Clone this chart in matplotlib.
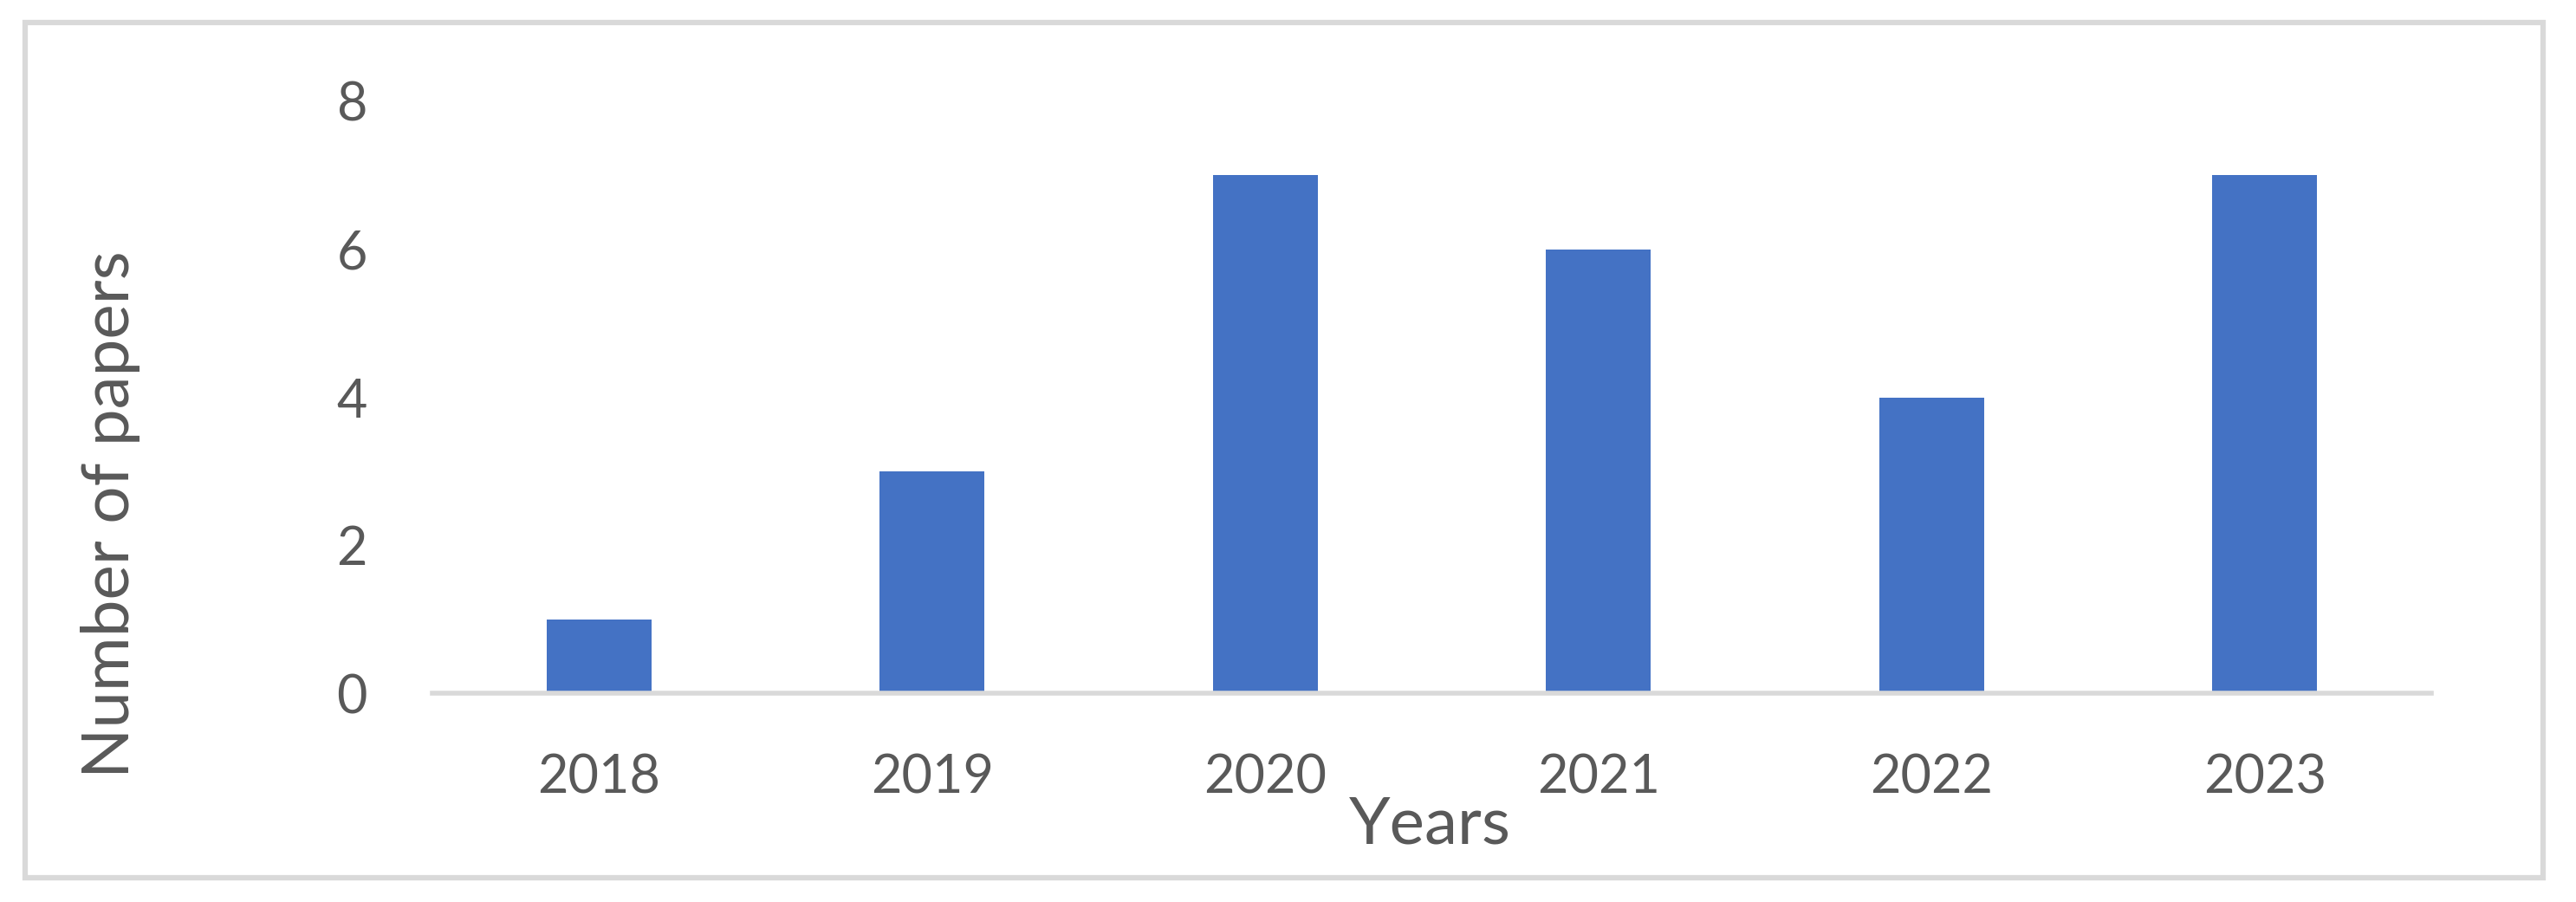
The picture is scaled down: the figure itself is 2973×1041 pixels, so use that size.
import matplotlib
matplotlib.use('Agg')
import matplotlib.pyplot as plt
from matplotlib.patches import Rectangle

years = ['2018', '2019', '2020', '2021', '2022', '2023']
papers = [1, 3, 7, 6, 4, 7]
yticks = [0, 2, 4, 6, 8]

plt.rcParams['font.family'] = ['Lato', 'DejaVu Sans']

grey = '#595959'
W, H = 2973, 1041
fig = plt.figure(figsize=(W / 100, H / 100), dpi=100)

# outer chart border (like an office chart frame)
fig.patches.append(Rectangle((29 / W, 28 / H), (2935 - 29) / W, (1013 - 26) / H,
                             transform=fig.transFigure, fill=False,
                             edgecolor='#D9D9D9', linewidth=4.5))

ax = fig.add_axes([499 / W, 1 - 800 / H, (2806 - 499) / W, (800 - 117) / H])
x = range(len(years))
ax.bar(x, papers, width=0.315, color='#4472C4', zorder=2)
ax.set_xlim(-0.5, len(years) - 0.5)
ax.set_ylim(0, 8)
ax.set_yticks(yticks)
ax.set_xticks(list(x))
ax.set_xticklabels(years)

for s in ['top', 'right', 'left']:
    ax.spines[s].set_visible(False)
ax.spines['bottom'].set_color('#D9D9D9')
ax.spines['bottom'].set_linewidth(4)
ax.tick_params(axis='both', length=0, labelcolor=grey, labelsize=44)
ax.tick_params(axis='y', pad=54)
ax.tick_params(axis='x', pad=50)

fig.text(1650 / W, 1 - 952 / H, 'Years', ha='center', va='center',
         fontsize=55, color=grey)
fig.text(128 / W, 1 - 594 / H, 'Number of papers', ha='center', va='center',
         rotation=90, fontsize=55, color=grey)

fig.savefig('out.png', dpi=100)
